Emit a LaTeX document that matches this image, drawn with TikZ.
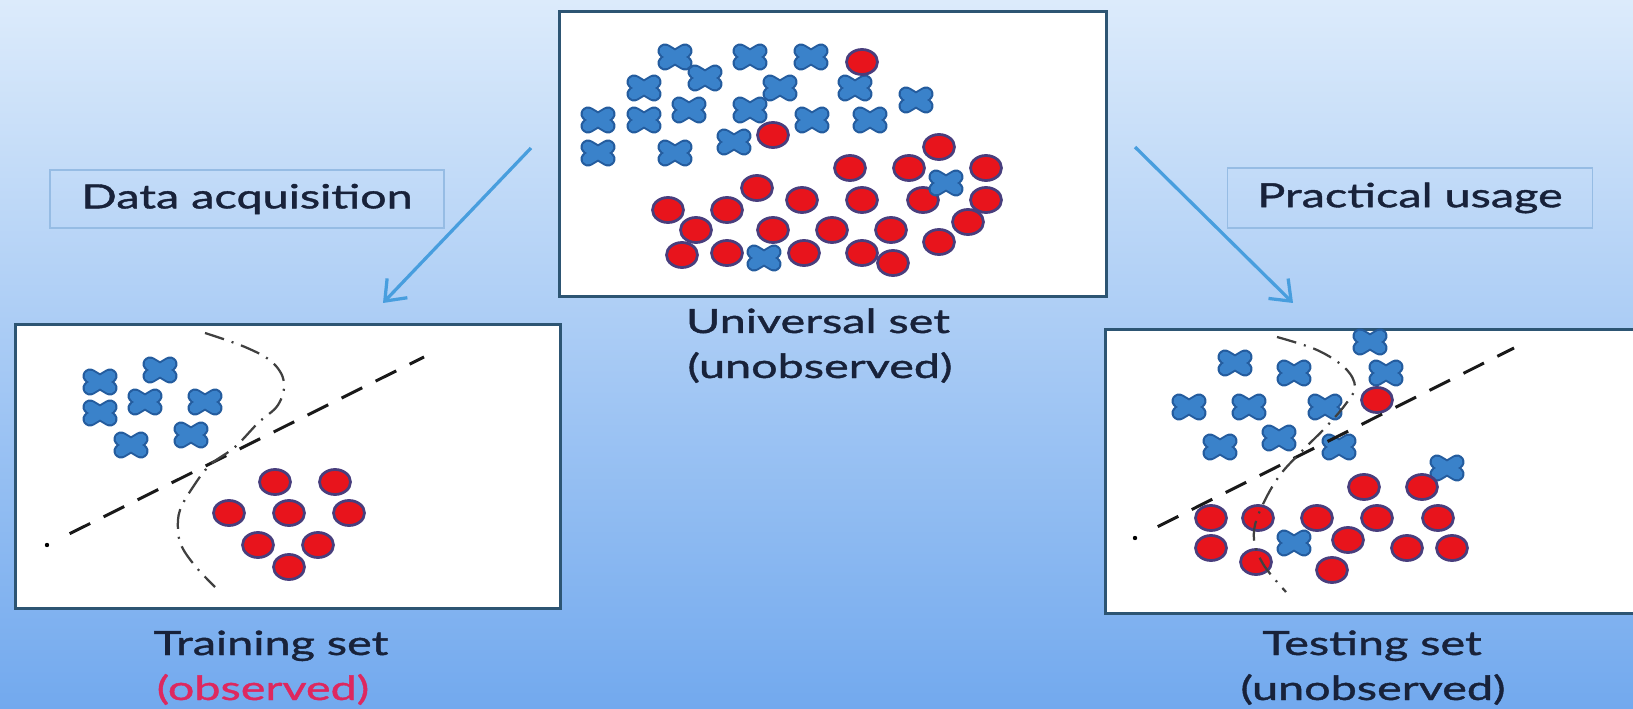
\documentclass[tikz,border=0pt]{standalone}
\usepackage{fontspec}
\setmainfont[FakeStretch=1.4, FakeBold=1.2]{Lato}
\usetikzlibrary{arrows.meta,calc}

\definecolor{bgtop}{RGB}{220,235,251}
\definecolor{bgbot}{RGB}{114,169,238}
\definecolor{frame}{RGB}{45,85,115}
\definecolor{ink}{RGB}{24,34,58}
\definecolor{obs}{RGB}{222,40,95}
\definecolor{arrowblue}{RGB}{72,158,222}
\definecolor{labelframe}{RGB}{150,188,228}
\definecolor{xfill}{RGB}{58,130,202}
\definecolor{xedge}{RGB}{36,92,158}
\definecolor{dotfill}{RGB}{232,20,28}
\definecolor{dotedge}{RGB}{72,62,125}

\tikzset{
  panel/.style={draw=frame, line width=0.065cm, fill=white, inner sep=0pt, anchor=north west},
  caption/.style={text=ink, font=\fontsize{19}{23}\selectfont, anchor=base, inner sep=0pt},
  tagbox/.style={draw=labelframe, line width=0.03cm, text=ink, font=\fontsize{19}{23}\selectfont, inner sep=0pt},
  flowarrow/.style={draw=arrowblue, line width=0.065cm, -{Straight Barb[length=0.36cm, width=0.56cm, line width=0.065cm]}},
  linearsep/.style={draw=black!90, line width=0.06cm, dash pattern=on 0.46cm off 0.3cm},
  curvesep/.style={draw=black!75, line width=0.045cm, dash pattern=on 0.4cm off 0.16cm on 0.04cm off 0.16cm},
  xmark/.pic={
    \draw[xedge, line width=0.3cm, line cap=round] (-10,-6) -- (10,6) (-10,6) -- (10,-6);
    \draw[xfill, line width=0.22cm, line cap=round] (-10,-6) -- (10,6) (-10,6) -- (10,-6);
  },
  odot/.pic={
    \draw[dotedge, fill=dotfill, line width=0.055cm] (0,0) ellipse [x radius=15.5, y radius=12.5];
  }
}

\begin{document}
\begin{tikzpicture}[x=0.02cm, y=-0.02cm]
  \useasboundingbox (0,0) rectangle (1633,709);
  \clip (0,0) rectangle (1633,709);
  \fill[top color=bgtop, bottom color=bgbot] (0,0) rectangle (1633,709);

  % the three panels
  \node[panel, minimum width=10.94cm, minimum height=5.7cm] (universe) at (558,10) {};
  \node[panel, minimum width=10.9cm, minimum height=5.68cm] (train) at (14,323) {};
  \node[panel, minimum width=11.2cm, minimum height=5.68cm] (test) at (1104,328) {};

  % universal set: crosses
  \foreach \p in {(675,57),(750,57),(811,57),(705,78),(644,88),(780,88),(855,88),(916,100),
                  (598,120),(644,120),(689,110),(750,110),(812,120),(870,120),(734,142),
                  (598,153),(675,153),(764,258)}
    \pic at \p {xmark};
  % universal set: circles
  \foreach \p in {(862,62),(773,135),(939,147),(850,168),(909,168),(986,168),(757,188),
                  (802,200),(862,200),(923,200),(986,200),(668,210),(727,210),(968,222),
                  (696,230),(773,230),(832,230),(891,230),(939,242),(682,255),(727,253),
                  (804,253),(862,253),(893,263)}
    \pic at \p {odot};
  \pic at (946,183) {xmark};

  % training set
  \foreach \p in {(100,382),(160,370),(100,413),(145,402),(205,402),(131,445),(191,435)}
    \pic at \p {xmark};
  \foreach \p in {(275,482),(335,482),(229,513),(289,513),(349,513),(258,545),(318,545),(289,567)}
    \pic at \p {odot};
  \coordinate (tra) at (47,545);
  \coordinate (trb) at (424,357);
  \fill[black] (tra) circle [radius=2.2];
  \draw[linearsep] ($(tra)!0.06!(trb)$) -- (trb);
  \draw[curvesep] plot[smooth, tension=0.6] coordinates {(205,333) (245,347) (272,362) (284,382) (278,405)
      (258,423) (235,447) (210,465) (193,487) (180,510) (178,530) (182,547) (196,567) (215,587)};

  % testing set
  \foreach \p in {(1370,342),(1235,363),(1294,373),(1386,373),(1189,407),(1249,407),(1325,407),
                  (1279,438),(1220,447),(1339,447),(1447,468),(1294,543)}
    \pic at \p {xmark};
  \foreach \p in {(1377,400),(1364,487),(1422,487),(1211,518),(1258,518),(1317,518),(1377,518),
                  (1438,518),(1211,548),(1256,562),(1348,540),(1407,548),(1452,548),(1332,570)}
    \pic at \p {odot};
  \coordinate (tea) at (1135,538);
  \coordinate (teb) at (1514,348);
  \fill[black] (tea) circle [radius=2.2];
  \draw[linearsep] ($(tea)!0.06!(teb)$) -- (teb);
  \draw[curvesep] plot[smooth, tension=0.6] coordinates {(1277,337) (1317,350) (1345,368) (1355,387)
      (1345,405) (1325,428) (1300,453) (1280,475) (1265,500) (1255,525) (1255,545) (1265,567) (1286,592)};

  % flow arrows and their tags
  \coordinate (acqfrom) at (531,148);
  \coordinate (acqto) at (383,303);
  \coordinate (usefrom) at (1135,147);
  \coordinate (useto) at (1293,303);
  \draw[flowarrow] (acqfrom) -- (acqto);
  \draw[flowarrow] (usefrom) -- (useto);
  \node[tagbox, minimum width=7.88cm, minimum height=1.16cm] (acq) at (247,199) {Data acquisition};
  \node[tagbox, minimum width=7.3cm, minimum height=1.2cm] (use) at (1410,198) {Practical usage};

  % captions
  \node[caption] (ucap1) at (818,333) {Universal set};
  \node[caption] (ucap2) at (820,378) {(unobserved)};
  \node[caption] (trcap1) at (271,655) {Training set};
  \node[caption, text=obs] (trcap2) at (263,700) {(observed)};
  \node[caption] (tecap1) at (1372,655) {Testing set};
  \node[caption] (tecap2) at (1373,700) {(unobserved)};
\end{tikzpicture}
\end{document}
